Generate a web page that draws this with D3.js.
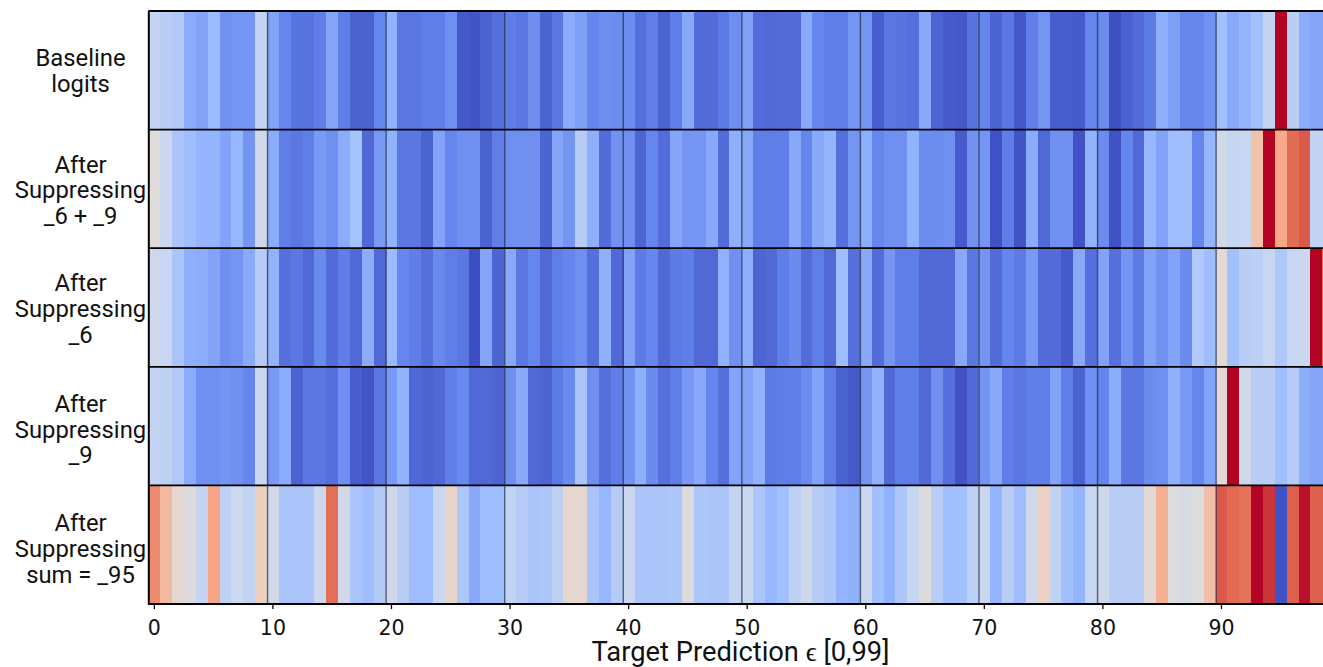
<!DOCTYPE html>
<html>
<head>
<meta charset="utf-8">
<script src="https://cdn.jsdelivr.net/npm/d3@7"></script>
<style>
  html, body { margin: 0; background: #fff; overflow: hidden; }
</style>
</head>
<body>
<svg id="chart"></svg>
<script>
// Labels, one array of lines per row
const rowLabels = [
    ["Baseline", "logits"],
    ["After", "Suppressing", "_6 + _9"],
    ["After", "Suppressing", "_6"],
    ["After", "Suppressing", "_9"],
    ["After", "Suppressing", "sum = _95"]
];
const tickLabels = [0, 10, 20, 30, 40, 50, 60, 70, 80, 90];
const xTitle = "Target Prediction \u03f5 [0,99]";

// Normalised logits, 10 per line (classes 0-99)
const baseline = [
    .40, .36, .33, .20, .17, .25, .115, .125, .125, .40,
    .17, .08, .055, .055, .07, .18, .07, .03, .03, .08,
    .22, .06, .06, .07, .07, .11, .018, .013, .03, .05,
    .07, .06, .105, .035, .06, .20, .16, .08, .105, .10,
    .10, .05, .07, .03, .07, .19, .045, .045, .065, .105,
    .165, .045, .04, .045, .045, .19, .08, .07, .07, .125,
    .125, .025, .06, .055, .05, .19, .035, .02, .017, .055,
    .08, .035, .06, .017, .07, .125, .025, .025, .02, .08,
    .095, .005, .03, .045, .065, .21, .16, .08, .08, .115,
    .28, .19, .23, .28, .40, 1, .36, .20, .18, .18
];
const suppress6and9 = [
    .51, .42, .31, .27, .23, .23, .17, .24, .125, .44,
    .20, .07, .06, .07, .14, .11, .20, .29, .04, .14,
    .22, .06, .06, .035, .17, .08, .11, .11, .03, .07,
    .11, .11, .11, .035, .18, .125, .35, .21, .045, .115,
    .11, .035, .08, .045, .18, .125, .125, .19, .045, .21,
    .19, .07, .07, .07, .19, .08, .195, .23, .05, .125,
    .21, .08, .11, .11, .22, .10, .10, .11, .02, .115,
    .125, .007, .07, .013, .20, .04, .11, .11, .009, .225,
    .095, .009, .08, .04, .24, .17, .27, .27, .08, .235,
    .45, .405, .415, .65, 1, .75, .91, .93, .39, .39
];
const suppress6 = [
    .44, .41, .31, .21, .205, .17, .11, .125, .195, .35,
    .225, .05, .06, .04, .085, .045, .07, .04, .20, .04,
    .25, .08, .07, .05, .085, .07, .06, .003, .18, .035,
    .19, .06, .08, .04, .07, .08, .11, .05, .215, .04,
    .17, .065, .08, .04, .065, .07, .04, .04, .22, .11,
    .21, .035, .04, .07, .095, .045, .07, .04, .265, .05,
    .195, .045, .125, .07, .07, .04, .04, .04, .19, .06,
    .125, .045, .08, .065, .14, .045, .045, .02, .19, .05,
    .17, .05, .125, .065, .17, .115, .17, .095, .33, .27,
    .53, .28, .36, .37, .41, .32, .41, .42, 1, .91
];
const suppress9 = [
    .40, .38, .34, .20, .11, .11, .125, .11, .08, .42,
    .14, .20, .03, .06, .06, .05, .11, .025, .013, .06,
    .14, .225, .04, .035, .04, .07, .085, .04, .04, .035,
    .11, .195, .04, .035, .065, .095, .31, .11, .05, .07,
    .115, .21, .095, .05, .07, .14, .19, .08, .05, .17,
    .17, .22, .065, .07, .07, .095, .17, .07, .03, .02,
    .125, .225, .04, .07, .07, .04, .11, .05, .009, .04,
    .125, .19, .07, .06, .07, .07, .17, .07, .03, .11,
    .08, .20, .06, .06, .095, .11, .215, .14, .08, .17,
    .53, 1, .44, .36, .36, .265, .35, .205, .18, .18
];
const suppressSum = [
    .83, .68, .54, .49, .40, .76, .38, .43, .39, .59,
    .45, .31, .31, .31, .43, .90, .45, .31, .27, .34,
    .44, .36, .27, .26, .42, .56, .32, .195, .26, .26,
    .39, .35, .31, .32, .38, .54, .54, .31, .24, .35,
    .42, .31, .31, .31, .32, .49, .32, .31, .31, .40,
    .42, .31, .24, .28, .38, .44, .35, .32, .23, .215,
    .42, .28, .22, .32, .41, .49, .36, .28, .28, .37,
    .42, .23, .36, .27, .44, .58, .39, .28, .23, .41,
    .44, .36, .36, .36, .52, .72, .50, .47, .50, .66,
    .93, .915, .89, 1, .96, .01, .925, .99, .925, .925
];
const rows = [baseline, suppress6and9, suppress6, suppress9, suppressSum];

const width = 1323;
const height = 667;
const plotLeft = 148.4;
const cellW = 11.857;
const plotTop = 11;
const plotBottom = 604;
const labelNudge = [8.5, 9.5, 9.5, 11.5, 12.5]; // row labels sit a bit lower going down

const svg = d3.select("#chart")
    .attr("width", width)
    .attr("height", height)
    .style("display", "block");

const classes = d3.range(100);
const x = d3.scaleBand().domain(classes).range([plotLeft, plotLeft + cellW * 100]);
const y = d3.scaleBand().domain(d3.range(rows.length)).range([plotTop, plotBottom]);

// coolwarm colormap
const color = d3.scaleLinear()
    .domain([0, 1 / 12, .25, 5 / 12, .5, 7 / 12, .75, 11 / 12, 1])
    .range(["#3b4cc0", "#6788ee", "#9abbff", "#c9d7f0", "#dddcdc", "#edd1c2", "#f7a889", "#e26952", "#b40426"]);

// Heatmap cells
const row = svg.selectAll("g.row")
    .data(rows)
    .enter()
    .append("g")
    .attr("class", "row")
    .attr("transform", (d, i) => `translate(0,${y(i)})`);

row.selectAll("rect")
    .data(d => d)
    .enter()
    .append("rect")
    .attr("x", (d, i) => x(i))
    .attr("width", x.bandwidth() + 0.5)
    .attr("height", y.bandwidth())
    .attr("fill", d => color(d))
    .attr("shape-rendering", "crispEdges");

// Separators every ten classes
svg.selectAll("line.decade")
    .data(tickLabels.slice(1))
    .enter()
    .append("line")
    .attr("class", "decade")
    .attr("x1", d => x(d) + 0.6)
    .attr("x2", d => x(d) + 0.6)
    .attr("y1", plotTop)
    .attr("y2", plotBottom)
    .attr("stroke", "#1c2b4a")
    .attr("stroke-opacity", 0.7)
    .attr("stroke-width", 1.4);

// Lines between rows and the frame
svg.selectAll("line.sep")
    .data(d3.range(rows.length + 1))
    .enter()
    .append("line")
    .attr("class", "sep")
    .attr("x1", plotLeft)
    .attr("x2", width)
    .attr("y1", d => plotTop + d * y.bandwidth())
    .attr("y2", d => plotTop + d * y.bandwidth())
    .attr("stroke", "#000")
    .attr("stroke-width", 1.8);

svg.append("line")
    .attr("x1", plotLeft + 0.4)
    .attr("x2", plotLeft + 0.4)
    .attr("y1", plotTop)
    .attr("y2", plotBottom + 1)
    .attr("stroke", "#000")
    .attr("stroke-width", 2);

// Bottom axis
const axis = svg.append("g")
    .attr("transform", `translate(0,${plotBottom})`)
    .call(d3.axisBottom(x).tickValues(tickLabels).tickSize(5).tickSizeOuter(0));
axis.select(".domain").remove();
axis.selectAll(".tick line").attr("stroke", "#000").attr("stroke-width", 1.3);
axis.selectAll(".tick text")
    .attr("font-family", "DejaVu Sans")
    .attr("font-size", 20.5)
    .attr("fill", "#111")
    .attr("y", 31)
    .attr("dy", 0);

svg.append("text")
    .attr("x", 740.5)
    .attr("y", 660.5)
    .attr("text-anchor", "middle")
    .attr("font-family", "Roboto")
    .attr("font-size", 27.3)
    .attr("fill", "#111")
    .text(xTitle);

// Row labels
const labelGroup = svg.selectAll("g.label")
    .data(rowLabels)
    .enter()
    .append("g")
    .attr("class", "label")
    .attr("transform", (d, i) => `translate(80.5,${y(i) + y.bandwidth() / 2 + labelNudge[i]})`);

labelGroup.selectAll("text")
    .data(d => d.map((t, i) => ({ t, off: (i - (d.length - 1) / 2) * 25.8 })))
    .enter()
    .append("text")
    .attr("y", d => d.off)
    .attr("text-anchor", "middle")
    .attr("font-family", "Roboto")
    .attr("font-size", 23.8)
    .attr("fill", "#111")
    .text(d => d.t);
</script>
</body>
</html>
